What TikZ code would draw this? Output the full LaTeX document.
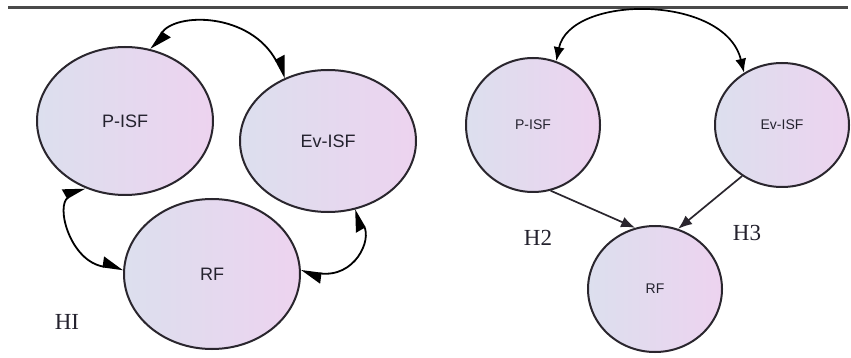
\documentclass[tikz,border=0pt]{standalone}
\usepackage{fontspec}
\setmainfont{Liberation Serif}
\newfontfamily\lblfont{Liberation Sans}
\usetikzlibrary{shapes.geometric,arrows.meta}
\definecolor{fillA}{HTML}{DCDFEE}
\definecolor{fillB}{HTML}{EDD3EF}
\definecolor{edgec}{HTML}{2A262E}
\definecolor{txtc}{HTML}{24222E}
\definecolor{rulec}{HTML}{4A4A4A}
\tikzset{
  bubble/.style={ellipse, draw=edgec, line width=2pt, left color=fillA, right color=fillB,
    inner sep=0pt, text=txtc},
  bigbubble/.style={bubble, font=\lblfont\fontsize{18}{20}\selectfont},
  smallbubble/.style={bubble, font=\lblfont\fontsize{14}{16}\selectfont},
  hlabel/.style={text=txtc, font=\fontsize{23}{25}\selectfont, inner sep=0pt},
  halfarrow/.style={draw=black, line width=1.8pt, {Triangle[harpoon,length=19pt,width=20pt]}-{Triangle[harpoon,length=19pt,width=20pt]}},
  dblarrow/.style={draw=black, line width=1.7pt, {Latex[length=14pt,width=11pt]}-{Latex[length=14pt,width=11pt]}},
  onearrow/.style={draw=edgec, line width=1.7pt, -{Latex[length=14pt,width=11pt]}}
}
\begin{document}
\begin{tikzpicture}[x=1pt,y=-1pt]
\useasboundingbox (0,0) rectangle (851,358);
\fill[white] (0,0) rectangle (851,358);
% top rule
\coordinate (r1) at (8,8);
\coordinate (r2) at (848,8);
\draw[rulec, line width=3pt] (r1) -- (r2);

% left panel
\node[bigbubble, minimum width=176pt, minimum height=148pt] (P1) at (125,121) {P-ISF};
\node[bigbubble, minimum width=176pt, minimum height=142pt] (E1) at (328,141) {Ev-ISF};
\node[bigbubble, minimum width=176pt, minimum height=150pt] (R1) at (212,274) {RF};
\node[hlabel] (H1) at (67,322) {HI};

\draw[halfarrow] (P1.70) .. controls (175,12) and (250,12) .. (E1.124);
\draw[halfarrow] (P1.239) .. controls (55,205) and (70,262) .. (R1.177);
\draw[halfarrow] (E1.291) .. controls (372,240) and (355,278) .. (R1.2);

% right panel
\node[smallbubble, minimum width=134pt, minimum height=134pt] (P2) at (533,125) {P-ISF};
\node[smallbubble, minimum width=134pt, minimum height=124pt] (E2) at (782,125) {Ev-ISF};
\node[smallbubble, minimum width=134pt, minimum height=126pt] (R2) at (655,289) {RF};
\node[hlabel] (H2) at (538,238) {H2};
\node[hlabel] (H3) at (747,233) {H3};

\draw[dblarrow] (P2.70) .. controls (570,-6) and (725,-6) .. (E2.126);
\draw[onearrow] (P2.285) -- (R2.108);
\draw[onearrow] (E2.232) -- (R2.69);
\end{tikzpicture}
\end{document}
